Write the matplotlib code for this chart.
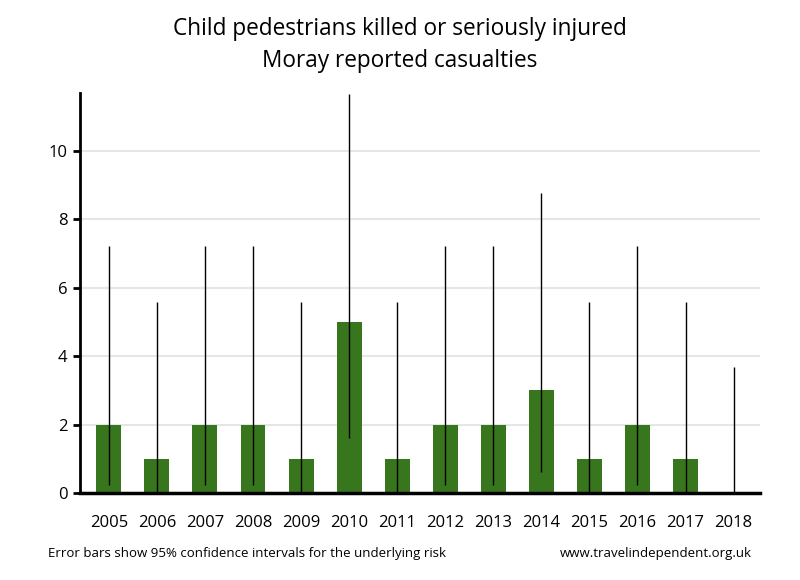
import matplotlib.pyplot as plt
import numpy as np

years = ['2005', '2006', '2007', '2008', '2009', '2010', '2011',
         '2012', '2013', '2014', '2015', '2016', '2017', '2018']
casualties = [2, 1, 2, 2, 1, 5, 1, 2, 2, 3, 1, 2, 1, 0]
ci_low = [0.24, 0.03, 0.24, 0.24, 0.03, 1.62, 0.03,
          0.24, 0.24, 0.62, 0.03, 0.24, 0.03, 0.0]
ci_high = [7.22, 5.57, 7.22, 7.22, 5.57, 11.67, 5.57,
           7.22, 7.22, 8.77, 5.57, 7.22, 5.57, 3.69]

plt.rcParams['font.family'] = ['Open Sans', 'DejaVu Sans']

fig = plt.figure(figsize=(8, 5.8), dpi=100)
ax = fig.add_axes([0.1, 0.15, 0.85, 0.69])

x = np.arange(len(years))
ax.bar(x, casualties, width=0.52, color='#38761d', zorder=2)
ax.vlines(x, ci_low, ci_high, color='black', linewidth=1, zorder=3)

ax.set_xlim(-0.6, len(years) - 0.45)
ax.set_ylim(0, 11.7)
ax.set_yticks([0, 2, 4, 6, 8, 10])
ax.set_xticks(x)
ax.set_xticklabels(years)
ax.tick_params(axis='x', length=0, pad=16, labelsize=12)
ax.tick_params(axis='y', length=5, width=2, labelsize=12, pad=4)
ax.yaxis.grid(True, color='#e6e6e6', linewidth=1.5, zorder=0)
ax.set_axisbelow(True)

for side in ['top', 'right']:
    ax.spines[side].set_visible(False)
ax.spines['left'].set_linewidth(2)
ax.spines['bottom'].set_linewidth(2.5)

fig.text(0.5, 0.95, 'Child pedestrians killed or seriously injured',
         ha='center', va='center', fontsize=16.3)
fig.text(0.5, 0.895, 'Moray reported casualties',
         ha='center', va='center', fontsize=16.3)
fig.text(0.06, 0.045, 'Error bars show 95% confidence intervals for the underlying risk',
         ha='left', va='center', fontsize=9.5)
fig.text(0.94, 0.045, 'www.travelindependent.org.uk',
         ha='right', va='center', fontsize=9.5)

plt.savefig('out.png', dpi=100)
